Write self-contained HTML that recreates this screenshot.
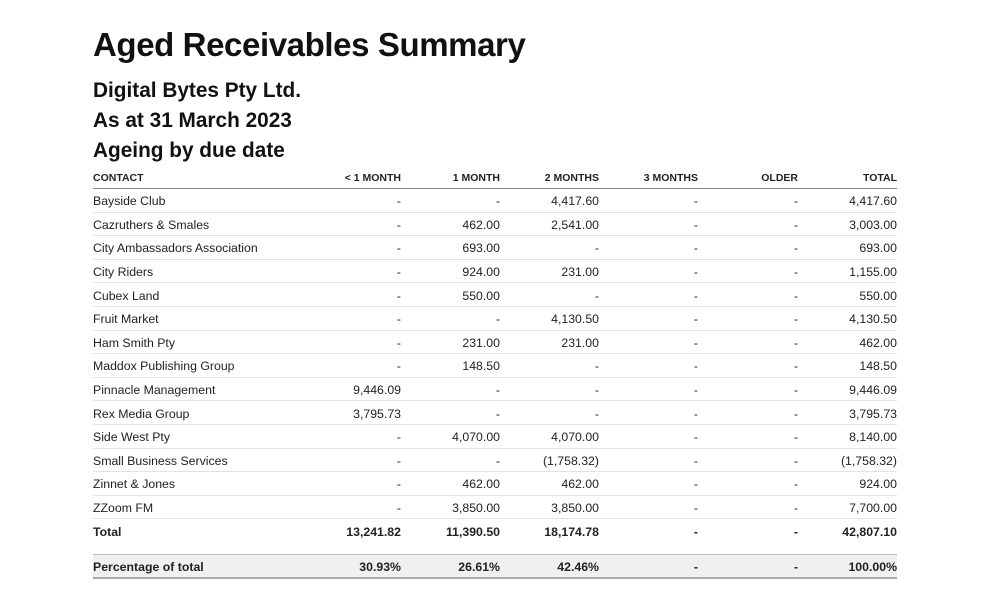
<!DOCTYPE html>
<html><head><meta charset="utf-8"><style>
body{margin:0;width:989px;height:615px;background:#fff;font-family:"Liberation Sans",Arial,sans-serif;color:#222;position:relative;overflow:hidden}
h1{position:absolute;left:93px;top:26px;margin:0;font-size:33px;font-weight:bold;letter-spacing:-0.4px;color:#111}
.sub{position:absolute;left:93px;margin:0;font-size:20.8px;font-weight:bold;color:#111}
table{position:absolute;left:93px;top:167px;width:804px;border-collapse:collapse;table-layout:fixed;font-size:12.3px}
td,th{padding:0;text-align:right;white-space:nowrap}
td:first-child,th:first-child{text-align:left}
th{font-size:10.5px;font-weight:bold;height:21px;border-bottom:1px solid #888;vertical-align:middle}
tr.r td{height:22.6px;border-bottom:1px solid #e3e3e3;padding-top:2px;height:20.6px}
tr.t td{height:24px;font-weight:bold;border:none;padding-top:2px;height:22px}
tr.g td{height:11px}
tr.p td{height:22px;font-weight:bold;background:#f0f0f0;border-top:1px solid #bbb;border-bottom:2px solid #aaa;padding-top:2px;height:20px}
</style></head><body>
<h1>Aged Receivables Summary</h1>
<div class="sub" style="top:79px">Digital Bytes Pty Ltd.</div>
<div class="sub" style="top:109px">As at 31 March 2023</div>
<div class="sub" style="top:139px">Ageing by due date</div>
<table>
<colgroup><col style="width:208px"><col style="width:100px"><col style="width:99px"><col style="width:99px"><col style="width:99px"><col style="width:100px"><col style="width:99px"></colgroup>
<tr><th>CONTACT</th><th>&lt; 1 MONTH</th><th>1 MONTH</th><th>2 MONTHS</th><th>3 MONTHS</th><th>OLDER</th><th>TOTAL</th></tr>
<tr class="r"><td>Bayside Club</td><td>-</td><td>-</td><td>4,417.60</td><td>-</td><td>-</td><td>4,417.60</td></tr>
<tr class="r"><td>Cazruthers &amp; Smales</td><td>-</td><td>462.00</td><td>2,541.00</td><td>-</td><td>-</td><td>3,003.00</td></tr>
<tr class="r"><td>City Ambassadors Association</td><td>-</td><td>693.00</td><td>-</td><td>-</td><td>-</td><td>693.00</td></tr>
<tr class="r"><td>City Riders</td><td>-</td><td>924.00</td><td>231.00</td><td>-</td><td>-</td><td>1,155.00</td></tr>
<tr class="r"><td>Cubex Land</td><td>-</td><td>550.00</td><td>-</td><td>-</td><td>-</td><td>550.00</td></tr>
<tr class="r"><td>Fruit Market</td><td>-</td><td>-</td><td>4,130.50</td><td>-</td><td>-</td><td>4,130.50</td></tr>
<tr class="r"><td>Ham Smith Pty</td><td>-</td><td>231.00</td><td>231.00</td><td>-</td><td>-</td><td>462.00</td></tr>
<tr class="r"><td>Maddox Publishing Group</td><td>-</td><td>148.50</td><td>-</td><td>-</td><td>-</td><td>148.50</td></tr>
<tr class="r"><td>Pinnacle Management</td><td>9,446.09</td><td>-</td><td>-</td><td>-</td><td>-</td><td>9,446.09</td></tr>
<tr class="r"><td>Rex Media Group</td><td>3,795.73</td><td>-</td><td>-</td><td>-</td><td>-</td><td>3,795.73</td></tr>
<tr class="r"><td>Side West Pty</td><td>-</td><td>4,070.00</td><td>4,070.00</td><td>-</td><td>-</td><td>8,140.00</td></tr>
<tr class="r"><td>Small Business Services</td><td>-</td><td>-</td><td>(1,758.32)</td><td>-</td><td>-</td><td>(1,758.32)</td></tr>
<tr class="r"><td>Zinnet &amp; Jones</td><td>-</td><td>462.00</td><td>462.00</td><td>-</td><td>-</td><td>924.00</td></tr>
<tr class="r"><td>ZZoom FM</td><td>-</td><td>3,850.00</td><td>3,850.00</td><td>-</td><td>-</td><td>7,700.00</td></tr>
<tr class="t"><td>Total</td><td>13,241.82</td><td>11,390.50</td><td>18,174.78</td><td>-</td><td>-</td><td>42,807.10</td></tr>
<tr class="g"><td colspan="7"></td></tr>
<tr class="p"><td>Percentage of total</td><td>30.93%</td><td>26.61%</td><td>42.46%</td><td>-</td><td>-</td><td>100.00%</td></tr>
</table>
</body></html>
